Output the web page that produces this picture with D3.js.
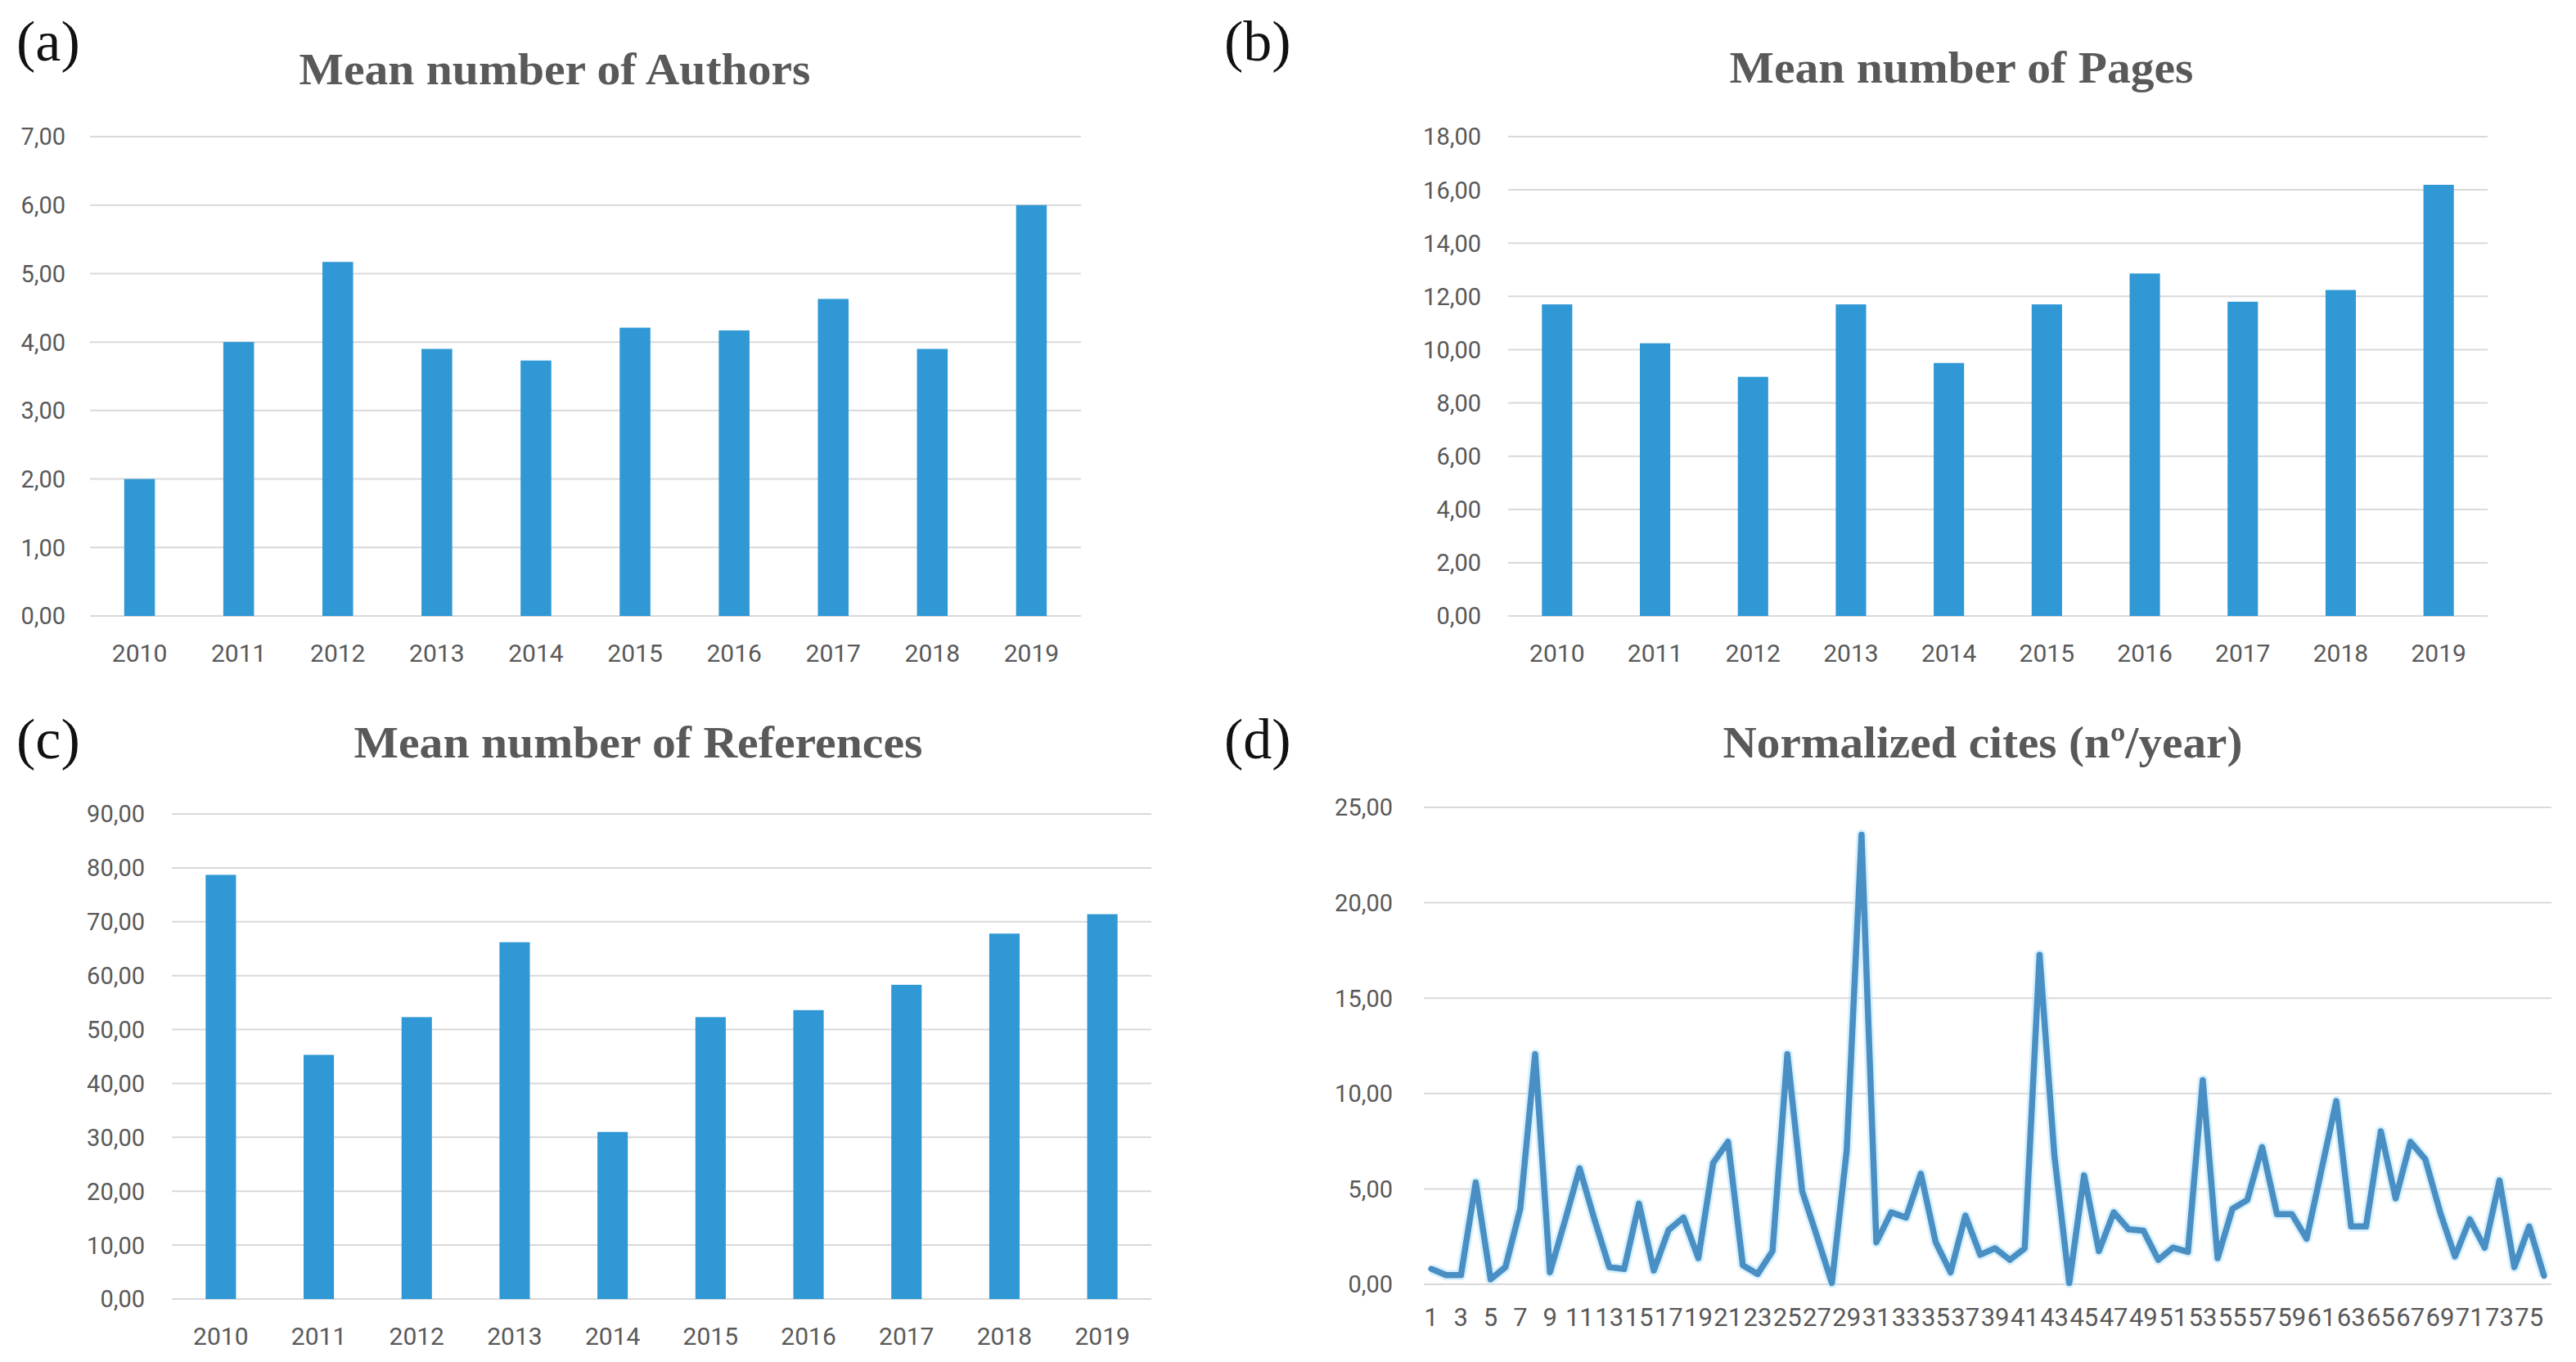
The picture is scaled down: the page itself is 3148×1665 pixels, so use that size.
<!DOCTYPE html>
<html>
<head>
<meta charset="utf-8">
<script src="https://cdn.jsdelivr.net/npm/d3@7"></script>
<style>
  body { margin: 0; background: #fff; }
  text { font-family: Roboto, "Liberation Sans", sans-serif; }
</style>
</head>
<body>
<div id="container"></div>
<script>
var width = 3148,
    height = 1665;

// data
var years = ["2010", "2011", "2012", "2013", "2014", "2015", "2016", "2017", "2018", "2019"];
var authors = [2.00, 4.00, 5.17, 3.90, 3.73, 4.21, 4.17, 4.63, 3.90, 6.00];
var pages = [11.70, 10.24, 8.98, 11.70, 9.50, 11.70, 12.86, 11.80, 12.24, 16.19];
var references = [78.7, 45.3, 52.3, 66.2, 31.0, 52.3, 53.6, 58.3, 67.8, 71.4];

var papers = [1, 2, 3, 4, 5, 6, 7, 8, 9, 10, 11, 12, 13, 14, 15, 16, 17, 18, 19, 20,
    21, 22, 23, 24, 25, 26, 27, 28, 29, 30, 31, 32, 33, 34, 35, 36, 37, 38, 39, 40,
    41, 42, 43, 44, 45, 46, 47, 48, 49, 50, 51, 52, 53, 54, 55, 56, 57, 58, 59, 60,
    61, 62, 63, 64, 65, 66, 67, 68, 69, 70, 71, 72, 73, 74, 75, 76];
var cites = [0.81, 0.48, 0.48, 5.34, 0.26, 0.90, 3.96, 12.06, 0.63, 3.30,
    6.08, 3.40, 0.90, 0.80, 4.23, 0.72, 2.85, 3.50, 1.37, 6.36,
    7.47, 1.00, 0.54, 1.74, 12.06, 4.88, 2.50, 0.07, 7.00, 23.56,
    2.20, 3.77, 3.50, 5.80, 2.20, 0.63, 3.60, 1.55, 1.89, 1.28,
    1.89, 17.27, 6.73, 0.07, 5.71, 1.74, 3.77, 2.88, 2.81, 1.28,
    1.92, 1.70, 10.70, 1.37, 3.96, 4.42, 7.19, 3.68, 3.68, 2.39,
    6.00, 9.60, 3.03, 3.03, 8.02, 4.50, 7.47, 6.55, 3.77, 1.46,
    3.40, 1.92, 5.44, 0.90, 3.03, 0.44];

var ticksA = [0, 1, 2, 3, 4, 5, 6, 7];
var ticksB = [0, 2, 4, 6, 8, 10, 12, 14, 16, 18];
var ticksC = [0, 10, 20, 30, 40, 50, 60, 70, 80, 90];
var ticksD = [0, 5, 10, 15, 20, 25];

var barColor = "#2f98d5",
    lineColor = "#4a8fc3",
    gridColor = "#d9d9d9",
    textColor = "#595959";

var fmt = d3.formatLocale({decimal: ",", thousands: ".", grouping: [3], currency: ["", ""]}).format(".2f");

var svg = d3.select("#container").append("svg")
    .attr("width", width)
    .attr("height", height);

svg.append("rect").attr("width", width).attr("height", height).attr("fill", "#fff");

function panelText(p) {
    svg.append("text")
        .attr("x", p.lx).attr("y", p.ly)
        .style("font-family", "'Liberation Serif', 'DejaVu Serif', serif")
        .style("font-size", "70px")
        .attr("fill", "#111")
        .text(p.letter);
    svg.append("text")
        .attr("x", p.tx).attr("y", p.ty)
        .attr("text-anchor", "middle")
        .attr("textLength", p.tw)
        .attr("lengthAdjust", "spacingAndGlyphs")
        .style("font-family", "'Liberation Serif', 'DejaVu Serif', serif")
        .style("font-weight", "bold")
        .style("font-size", "54px")
        .attr("fill", textColor)
        .text(p.title);
}

function yAxis(y, ticks, x0, x1, labelX) {
    svg.append("g").selectAll("line")
        .data(ticks)
        .enter().append("line")
        .attr("x1", x0).attr("x2", x1)
        .attr("y1", d => y(d)).attr("y2", d => y(d))
        .attr("stroke", gridColor)
        .attr("stroke-width", 2);
    svg.append("g").selectAll("text")
        .data(ticks)
        .enter().append("text")
        .attr("x", labelX)
        .attr("y", d => y(d))
        .attr("dy", "0.36em")
        .attr("text-anchor", "end")
        .style("font-size", "29px")
        .attr("fill", textColor)
        .text(d => fmt(d));
}

function barPanel(p, values, ticks) {
    panelText(p);
    let x = d3.scaleBand()
        .domain(years)
        .range([p.x0, p.x1])
        .paddingInner(0.69)
        .paddingOuter(0.345);
    let y = d3.scaleLinear()
        .domain([0, d3.max(ticks)])
        .range([p.y0, p.y1]);
    yAxis(y, ticks, p.x0, p.x1, p.labelX);
    svg.append("g").selectAll("rect")
        .data(values)
        .enter().append("rect")
        .attr("x", (d, i) => x(years[i]))
        .attr("y", d => y(d))
        .attr("width", x.bandwidth())
        .attr("height", d => y(0) - y(d))
        .attr("fill", barColor);
    svg.append("g").selectAll("text")
        .data(years)
        .enter().append("text")
        .attr("x", d => x(d) + x.bandwidth() / 2)
        .attr("y", p.y0 + 56)
        .attr("text-anchor", "middle")
        .style("font-size", "30px")
        .attr("fill", textColor)
        .text(d => d);
}

barPanel({letter: "(a)", lx: 20, ly: 74, title: "Mean number of Authors", tx: 678, ty: 103, tw: 625,
    x0: 110, x1: 1321, y0: 753, y1: 167, labelX: 80}, authors, ticksA);
barPanel({letter: "(b)", lx: 1496, ly: 74, title: "Mean number of Pages", tx: 2397, ty: 101, tw: 567,
    x0: 1843, x1: 3040, y0: 753, y1: 167, labelX: 1810}, pages, ticksB);
barPanel({letter: "(c)", lx: 20, ly: 927, title: "Mean number of References", tx: 780, ty: 926, tw: 695,
    x0: 210, x1: 1407, y0: 1588, y1: 995, labelX: 177}, references, ticksC);

// (d) line chart
(function () {
    let p = {letter: "(d)", lx: 1496, ly: 927, title: "Normalized cites (nº/year)", tx: 2423, ty: 926, tw: 635,
        x0: 1740, x1: 3118, y0: 1570, y1: 987, labelX: 1702};
    panelText(p);
    let x = d3.scaleBand()
        .domain(papers)
        .range([p.x0, p.x1]);
    let y = d3.scaleLinear()
        .domain([0, 25])
        .range([p.y0, p.y1]);
    yAxis(y, ticksD, p.x0, p.x1, p.labelX);

    let line = d3.line()
        .x((d, i) => x(papers[i]) + x.bandwidth() / 2)
        .y(d => y(d));
    svg.append("path")
        .attr("d", line(cites))
        .attr("fill", "none")
        .attr("stroke", "#bfe7fb")
        .attr("stroke-width", 13)
        .attr("stroke-opacity", 0.6)
        .attr("stroke-linejoin", "round");
    svg.append("path")
        .attr("d", line(cites))
        .attr("fill", "none")
        .attr("stroke", lineColor)
        .attr("stroke-width", 7.5)
        .attr("stroke-linejoin", "round")
        .attr("stroke-linecap", "round");

    svg.append("g").selectAll("text")
        .data(papers.filter((d, i) => i % 2 == 0))
        .enter().append("text")
        .attr("x", d => x(d) + x.bandwidth() / 2)
        .attr("y", p.y0 + 51)
        .attr("text-anchor", "middle")
        .style("font-size", "31px")
        .attr("fill", textColor)
        .text(d => d);
})();
</script>
</body>
</html>
